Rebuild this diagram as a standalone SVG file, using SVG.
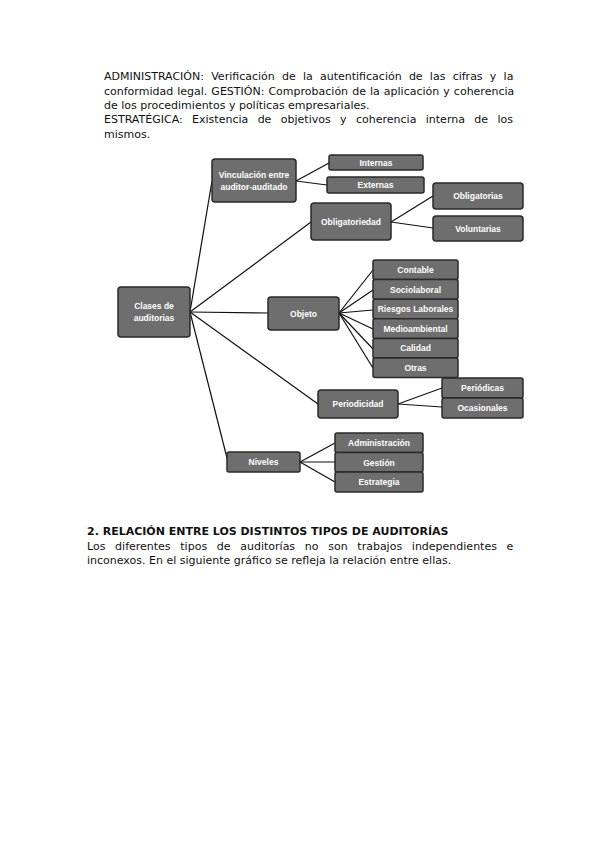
<svg xmlns="http://www.w3.org/2000/svg" width="599" height="848" viewBox="0 0 599 848">
<style>
.p{font-family:"DejaVu Sans",sans-serif;font-size:11px;fill:#111}
.h{font-family:"DejaVu Sans",sans-serif;font-size:11px;font-weight:bold;fill:#111}
.b{fill:#6e6e6e;stroke:#2a2a2a;stroke-width:1.5}
.t{font-family:"Liberation Sans",sans-serif;font-size:8.5px;font-weight:bold;fill:#fff;text-anchor:middle}
.c line{stroke:#111;stroke-width:1.2}
</style>
<rect width="599" height="848" fill="#fff"/>
<g id="text-top">
<text class="p" x="104" y="80" word-spacing="3.74">ADMINISTRACIÓN: Verificación de la autentificación de las cifras y la</text>
<text class="p" x="104" y="94.5" word-spacing="0.56">conformidad legal. GESTIÓN: Comprobación de la aplicación y coherencia</text>
<text class="p" x="104" y="109">de los procedimientos y políticas empresariales.</text>
<text class="p" x="104" y="123" word-spacing="5.91">ESTRATÉGICA: Existencia de objetivos y coherencia interna de los</text>
<text class="p" x="104" y="137.5">mismos.</text>
</g>
<g class="c" id="connectors">
<line x1="190" y1="312" x2="212" y2="181"/>
<line x1="190" y1="312" x2="311" y2="222"/>
<line x1="190" y1="312" x2="268" y2="313"/>
<line x1="190" y1="312" x2="318" y2="404"/>
<line x1="190" y1="312" x2="227" y2="458"/>
<line x1="296" y1="181" x2="329" y2="163"/>
<line x1="296" y1="181" x2="327" y2="185"/>
<line x1="391" y1="222" x2="433" y2="196"/>
<line x1="391" y1="222" x2="433" y2="228"/>
<line x1="339" y1="313" x2="373" y2="270"/>
<line x1="339" y1="313" x2="373" y2="290"/>
<line x1="339" y1="313" x2="373" y2="310"/>
<line x1="339" y1="313" x2="373" y2="329"/>
<line x1="339" y1="313" x2="373" y2="349"/>
<line x1="339" y1="313" x2="373" y2="368"/>
<line x1="398" y1="404" x2="442" y2="388"/>
<line x1="398" y1="404" x2="442" y2="407"/>
<line x1="300" y1="462" x2="335" y2="443"/>
<line x1="300" y1="462" x2="335" y2="462"/>
<line x1="300" y1="462" x2="335" y2="482"/>
</g>
<g id="clases"><rect class="b" x="118" y="287" width="72" height="50" rx="3"/><text class="t" x="154" y="309">Clases de</text><text class="t" x="154" y="320.5">auditorias</text></g>
<g id="vinculacion"><rect class="b" x="212" y="159" width="84" height="43" rx="3"/><text class="t" x="254" y="178">Vinculación entre</text><text class="t" x="254" y="189.5">auditor-auditado</text></g>
<g id="internas"><rect class="b" x="329" y="155" width="94" height="15" rx="2"/><text class="t" x="376" y="165.8">Internas</text></g>
<g id="externas"><rect class="b" x="327" y="177" width="97" height="16" rx="2"/><text class="t" x="375.5" y="188.3">Externas</text></g>
<g id="obligatoriedad"><rect class="b" x="311" y="203" width="80" height="37" rx="3"/><text class="t" x="351" y="224.5">Obligatoriedad</text></g>
<g id="obligatorias"><rect class="b" x="433" y="183" width="90" height="26" rx="3"/><text class="t" x="478" y="199">Obligatorias</text></g>
<g id="voluntarias"><rect class="b" x="433" y="216" width="90" height="25" rx="3"/><text class="t" x="478" y="231.5">Voluntarias</text></g>
<g id="objeto"><rect class="b" x="268" y="297" width="71" height="33" rx="3"/><text class="t" x="303.5" y="316.5">Objeto</text></g>
<g id="contable"><rect class="b" x="373" y="260" width="85" height="19.6" rx="2"/><text class="t" x="415.5" y="273">Contable</text></g>
<g id="sociolaboral"><rect class="b" x="373" y="279.6" width="85" height="19.6" rx="2"/><text class="t" x="415.5" y="292.6">Sociolaboral</text></g>
<g id="riesgos"><rect class="b" x="373" y="299.2" width="85" height="19.6" rx="2"/><text class="t" x="415.5" y="312.2">Riesgos Laborales</text></g>
<g id="medioambiental"><rect class="b" x="373" y="318.8" width="85" height="19.6" rx="2"/><text class="t" x="415.5" y="331.8">Medioambiental</text></g>
<g id="calidad"><rect class="b" x="373" y="338.4" width="85" height="19.6" rx="2"/><text class="t" x="415.5" y="351.4">Calidad</text></g>
<g id="otras"><rect class="b" x="373" y="358" width="85" height="19.6" rx="2"/><text class="t" x="415.5" y="371">Otras</text></g>
<g id="periodicidad"><rect class="b" x="318" y="390" width="80" height="28" rx="3"/><text class="t" x="358" y="407">Periodicidad</text></g>
<g id="periodicas"><rect class="b" x="442" y="378" width="81" height="20" rx="2"/><text class="t" x="482.5" y="391">Periódicas</text></g>
<g id="ocasionales"><rect class="b" x="442" y="398" width="81" height="20" rx="2"/><text class="t" x="482.5" y="411">Ocasionales</text></g>
<g id="niveles"><rect class="b" x="227" y="452" width="73" height="20" rx="2"/><text class="t" x="263.5" y="465">Niveles</text></g>
<g id="administracion"><rect class="b" x="335" y="433" width="88" height="19.5" rx="2"/><text class="t" x="379" y="446">Administración</text></g>
<g id="gestion"><rect class="b" x="335" y="452.5" width="88" height="19.5" rx="2"/><text class="t" x="379" y="465.5">Gestión</text></g>
<g id="estrategia"><rect class="b" x="335" y="472" width="88" height="20" rx="2"/><text class="t" x="379" y="485">Estrategia</text></g>
<g id="text-bottom">
<text class="h" x="87" y="535">2. RELACIÓN ENTRE LOS DISTINTOS TIPOS DE AUDITORÍAS</text>
<text class="p" x="87" y="549.5" word-spacing="6.2">Los diferentes tipos de auditorías no son trabajos independientes e</text>
<text class="p" x="87" y="564">inconexos. En el siguiente gráfico se refleja la relación entre ellas.</text>
</g>
</svg>
